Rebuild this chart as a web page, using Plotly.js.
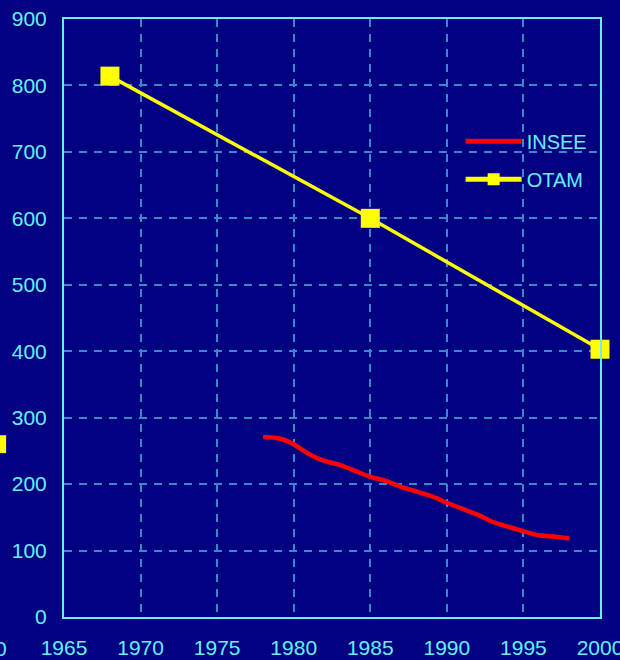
<!DOCTYPE html>
<html><head><meta charset="utf-8">
<script src="https://cdn.plot.ly/plotly-3.0.1.min.js"></script>
<style>html,body{margin:0;padding:0;background:#000080;}#chart{width:620px;height:660px;}</style>
</head><body><div id="chart"></div>
<script>
const inseeYears = [1978,1979,1980,1981,1982,1983,1984,1985,1986,1987,1988,1989,1990,1991,1992,1993,1994,1995,1996,1997,1998];
const inseeValues = [271,269,260,245,235,229,220,211,205,196,189,182,172,163,154,143,136,129,123,121,118];
const otamYears = [1968,1985,2000];
const otamValues = [814,600,403];
const xTicks = [1965,1970,1975,1980,1985,1990,1995,2000];
const yTicks = [0,100,200,300,400,500,600,700,800,900];

const cyan = '#66f0ff';
const fontFam = 'Liberation Sans, Arial, sans-serif';
const traces = [
  {x: inseeYears, y: inseeValues, name: 'INSEE', mode: 'lines', legendgroup: 'a',
   line: {color: '#ff0000', width: 4.5, shape: 'spline', smoothing: 0.6}},
  {x: otamYears, y: otamValues, name: 'OTAM', mode: 'lines+markers', legendgroup: 'b',
   line: {color: '#ffff00', width: 3.5},
   marker: {symbol: 'square', size: 19, color: '#ffff00'}, cliponaxis: false}
];
const axisCommon = {
  showline: true, linecolor: cyan, linewidth: 2, mirror: true,
  showgrid: true, gridcolor: '#3a88cc', gridwidth: 2, griddash: '8px,7px',
  zeroline: false, ticks: '', ticklabeloverflow: 'allow',
  tickfont: {family: fontFam, size: 21, color: cyan}
};
const layout = {
  width: 620, height: 660,
  paper_bgcolor: '#000080', plot_bgcolor: '#000080',
  margin: {l: 64, r: 20, t: 19, b: 43},
  showlegend: true,
  legend: {x: 0.74, y: 0.828, xanchor: 'left', yanchor: 'top', bgcolor: 'rgba(0,0,0,0)',
           font: {family: fontFam, size: 20, color: cyan},
           traceorder: 'grouped', tracegroupgap: 9, itemwidth: 56, itemsizing: 'constant'},
  xaxis: Object.assign({}, axisCommon, {range: [1965, 2000], tickvals: xTicks, ticklabelstandoff: 11}),
  yaxis: Object.assign({}, axisCommon, {range: [0, 900], tickvals: yTicks, ticklabelstandoff: 11}),
  shapes: [
    {type: 'rect', xref: 'paper', yref: 'paper', x0: -0.14, x1: -0.108, y0: 0.274, y1: 0.304,
     fillcolor: '#ffff00', line: {width: 0}}
  ],
  annotations: [
    {xref: 'paper', yref: 'paper', x: -0.1026, y: -0.052, xanchor: 'right', yanchor: 'middle',
     text: '2000', showarrow: false,
     font: {family: fontFam, size: 21, color: cyan}}
  ]
};
Plotly.newPlot('chart', traces, layout, {displayModeBar: false, staticPlot: true});
</script></body></html>
